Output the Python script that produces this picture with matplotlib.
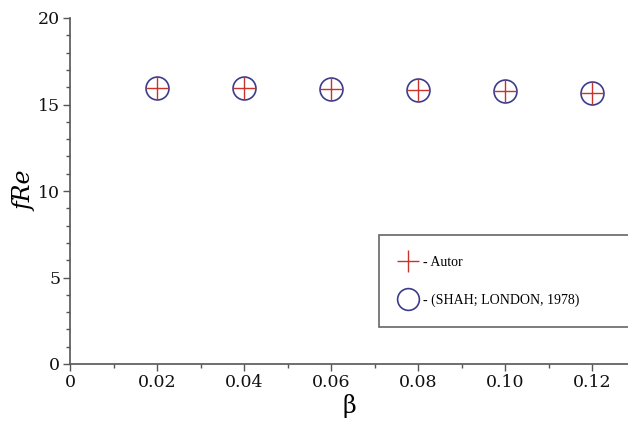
import matplotlib
matplotlib.use("Agg")
import matplotlib.pyplot as plt
from matplotlib.ticker import MultipleLocator, FixedLocator

beta = [0.02, 0.04, 0.06, 0.08, 0.10, 0.12]
fre_autor = [15.96, 15.95, 15.92, 15.86, 15.80, 15.67]
fre_shah = [15.96, 15.95, 15.92, 15.86, 15.80, 15.67]
xtick_vals = [0, 0.02, 0.04, 0.06, 0.08, 0.10, 0.12]
xtick_labels = ["0", "0.02", "0.04", "0.06", "0.08", "0.10", "0.12"]
ytick_vals = [0, 5, 10, 15, 20]

fig = plt.figure(figsize=(6.28, 4.28), dpi=100)
ax = fig.add_axes([70/628, 1-364/428, 1-70/628, (364-18)/428])

serif = ["DejaVu Serif"]
ax.plot(beta, fre_shah, linestyle="none", marker="o", markersize=16.5,
        markerfacecolor="none", markeredgecolor="#3c3c8c", markeredgewidth=1.2,
        label="- (SHAH; LONDON, 1978)")
ax.plot(beta, fre_autor, linestyle="none", marker="+", markersize=16,
        markeredgecolor="#c8342c", markeredgewidth=1.0, label="- Autor")

ax.set_xlim(0, (628-70)/87*0.02)
ax.set_ylim(0, 20)
for s in ["top", "right"]:
    ax.spines[s].set_visible(False)
for s in ["left", "bottom"]:
    ax.spines[s].set_color("#555555")
    ax.spines[s].set_linewidth(1.2)

ax.xaxis.set_major_locator(FixedLocator(xtick_vals))
ax.set_xticklabels(xtick_labels)
ax.xaxis.set_minor_locator(MultipleLocator(0.01))
ax.yaxis.set_major_locator(FixedLocator(ytick_vals))
ax.yaxis.set_minor_locator(MultipleLocator(1))
ax.tick_params(axis="both", which="major", length=5, width=1, color="#555555",
               labelsize=12.5, labelcolor="#111111", pad=2)
ax.tick_params(axis="both", which="minor", length=3, width=1, color="#555555")
for lab in ax.get_xticklabels() + ax.get_yticklabels():
    lab.set_family(serif)

ax.set_ylabel("fRe", fontsize=17, fontstyle="italic", family=serif, labelpad=1)
ax.set_xlabel("β", fontsize=17, family=serif, labelpad=2)

h, l = ax.get_legend_handles_labels()
leg = fig.legend([h[1], h[0]], [l[1], l[0]],
                 loc="upper left", bbox_to_anchor=(379/628, 1-322/428, 0.42, 87/428),
                 mode="expand", frameon=True, fancybox=False, framealpha=1,
                 edgecolor="#666666", borderpad=1.5, labelspacing=1.75,
                 handlelength=1.2, handletextpad=0.45, borderaxespad=0,
                 prop={"family": "Liberation Serif", "size": 10}, markerscale=0.95)
leg.get_frame().set_linewidth(1.2)

fig.savefig("out.png", dpi=100)
